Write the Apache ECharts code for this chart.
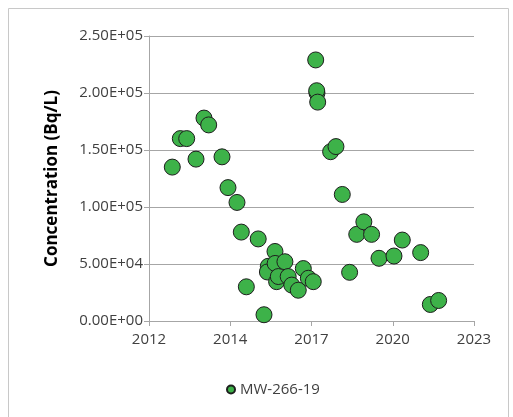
<!DOCTYPE html>
<html>
<head>
<meta charset="utf-8">
<script src="https://cdn.jsdelivr.net/npm/echarts@6/dist/echarts.min.js"></script>
<style>html,body{margin:0;padding:0;background:#fff;}#c{width:513px;height:417px;}</style>
</head>
<body>
<div id="c"></div>
<script>
// Sample dates (decimal years) and concentrations (Bq/L)
const dates = [2012.885, 2013.155, 2013.37, 2013.684, 2013.953, 2014.111, 2014.56, 2014.762, 2015.065, 2015.21,
  2015.38, 2015.78, 2015.975, 2016.12, 2016.09, 2016.345, 2016.35, 2016.40, 2016.457, 2016.68,
  2016.79, 2016.91, 2017.13, 2017.30, 2017.47, 2017.635, 2017.717, 2017.76, 2017.75, 2017.784,
  2018.22, 2018.40, 2018.613, 2018.86, 2019.10, 2019.34, 2019.60, 2019.85, 2020.355, 2020.635,
  2021.254, 2021.58, 2021.86];
const values = [135000, 160000, 160000, 142000, 178000, 172000, 144000, 117000, 104000, 78000,
  30000, 72000, 5500, 48000, 43000, 61000, 50500, 34500, 39000, 52000,
  39000, 31500, 27000, 46000, 37500, 34500, 229000, 200000, 202000, 192000,
  148500, 153000, 111000, 42700, 76000, 87000, 76000, 55000, 57000, 71000,
  60000, 14500, 18000];
const seriesName = 'MW-266-19';
const yTicks = [0, 50000, 100000, 150000, 200000, 250000];
const xTickYears = [2012, 2014, 2017, 2020, 2023];

const ORIGIN = 2012.1;           // axis start (decimal year)
const DAYS_PER_YEAR = 365.25;
const toDays = y => (y - ORIGIN) * DAYS_PER_YEAR;
const data = dates.map((d, i) => [toDays(d), values[i]]);

function sci(v) {
  const parts = v.toExponential(2).split('e');
  const e = parts[1];
  const sign = e[0];
  const digits = e.slice(1).padStart(2, '0');
  return parts[0] + 'E' + sign + digits;
}

const chart = echarts.init(document.getElementById('c'), null, {renderer: 'canvas'});
const gridColor = '#a6a6a6';
const textColor = '#404040';
const font = 'Open Sans';
chart.setOption({
  animation: false,
  backgroundColor: '#fff',
  graphic: [{
    type: 'rect', left: 6, top: 6,
    shape: {x: 0, y: 0, width: 500, height: 420},
    style: {fill: 'none', stroke: '#c8c8c8', lineWidth: 1}, silent: true
  }],
  grid: {left: 149, right: 39, top: 36, bottom: 96, containLabel: false},
  legend: {
    data: [seriesName], top: 377, left: 221,
    icon: 'circle', itemWidth: 8, itemHeight: 8, itemGap: 4,
    textStyle: {fontFamily: font, fontSize: 15, color: textColor}
  },
  xAxis: {
    type: 'value', min: 0, max: 4000, interval: 1000,
    axisLine: {show: true, lineStyle: {color: gridColor, width: 1}},
    axisTick: {show: true, length: 5, lineStyle: {color: gridColor}},
    splitLine: {show: false},
    axisLabel: {
      margin: 11, fontFamily: font, fontSize: 15, color: textColor,
      formatter: v => String(Math.floor(ORIGIN + v / DAYS_PER_YEAR))
    }
  },
  yAxis: {
    type: 'value', min: yTicks[0], max: yTicks[yTicks.length - 1], interval: 50000,
    name: 'Concentration (Bq/L)', nameLocation: 'middle', nameGap: 88,
    nameTextStyle: {fontFamily: font, fontSize: 17, fontWeight: 'bold', color: '#000'},
    axisLine: {show: true, lineStyle: {color: gridColor, width: 1}},
    axisTick: {show: true, length: 5, lineStyle: {color: gridColor}},
    splitLine: {show: true, lineStyle: {color: gridColor, width: 1}},
    axisLabel: {margin: 6, fontFamily: font, fontSize: 15, color: textColor, formatter: sci}
  },
  series: [{
    name: seriesName, type: 'scatter', data: data,
    symbol: 'circle', symbolSize: 16,
    itemStyle: {color: '#3db249', borderColor: '#1e1e1e', borderWidth: 1, opacity: 1}
  }]
});
</script>
</body>
</html>
